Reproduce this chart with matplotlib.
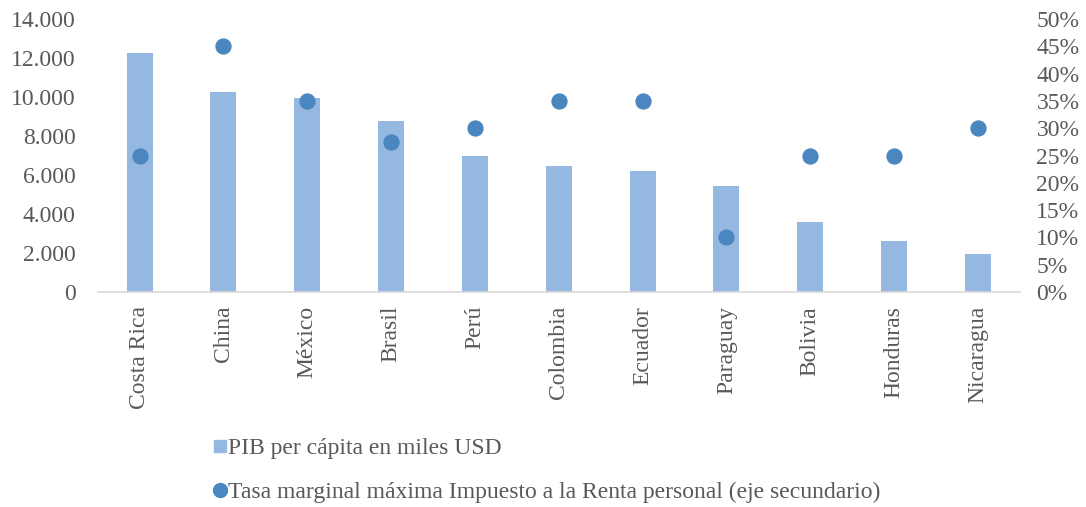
import numpy as np
import matplotlib
matplotlib.use('Agg')
import matplotlib.pyplot as plt
from matplotlib.ticker import FuncFormatter, MultipleLocator
from matplotlib.lines import Line2D

paises = ['Costa Rica', 'China', 'México', 'Brasil', 'Perú', 'Colombia',
          'Ecuador', 'Paraguay', 'Bolivia', 'Honduras', 'Nicaragua']
pib = [12260, 10260, 9950, 8750, 7000, 6450, 6200, 5450, 3600, 2600, 1950]
tasa = [0.25, 0.45, 0.35, 0.275, 0.30, 0.35, 0.35, 0.10, 0.25, 0.25, 0.30]

plt.rcParams['font.family'] = ['Liberation Serif', 'DejaVu Serif']
gris = '#595959'
c_bar = '#95b8e0'
c_dot = '#4a86bf'
fs = 17

f = plt.figure(figsize=(10.86, 5.07), dpi=100)
ax = f.add_axes([0.09, 0.424, 0.849, 0.5385])
x = np.arange(len(paises))
ax.bar(x, pib, width=0.31, color=c_bar, zorder=2)
ax.set_xlim(-0.5, len(paises) - 0.5)
ax.set_ylim(0, 14000)
ax.yaxis.set_major_locator(MultipleLocator(2000))
ax.yaxis.set_major_formatter(FuncFormatter(lambda v, p: f'{int(v):,}'.replace(',', '.')))
ax.set_xticks(x)
ax.set_xticklabels(paises, rotation=90)
for s in ['top', 'right', 'left']:
    ax.spines[s].set_visible(False)
ax.spines['bottom'].set_color('#d9d9d9')
ax.spines['bottom'].set_linewidth(1.2)
ax.tick_params(length=0, labelsize=fs, colors=gris)
ax.tick_params(axis='y', pad=16)
ax.tick_params(axis='x', pad=10)

ax2 = ax.twinx()
ax2.scatter(x, tasa, s=115, color=c_dot, zorder=3)
ax2.set_ylim(0, 0.5)
ax2.yaxis.set_major_locator(MultipleLocator(0.05))
ax2.yaxis.set_major_formatter(FuncFormatter(lambda v, p: f'{round(v*100)}%'))
for s in ['top', 'right', 'left', 'bottom']:
    ax2.spines[s].set_visible(False)
ax2.tick_params(length=0, labelsize=fs, colors=gris, pad=12)
for t in ax2.get_yticklabels():
    t.set_horizontalalignment('left')

h1 = Line2D([], [], ls='none', marker='s', ms=8, color=c_bar)
h2 = Line2D([], [], ls='none', marker='o', ms=10, color=c_dot)
leg = f.legend(handles=[h1, h2],
               labels=['PIB per cápita en miles USD',
                       'Tasa marginal máxima Impuesto a la Renta personal (eje secundario)'],
               loc='upper left', bbox_to_anchor=(0.187, 0.155),
               ncol=1, frameon=False, fontsize=fs, handlelength=0.6,
               handletextpad=0.05, labelspacing=0.95, borderaxespad=0)
for t in leg.get_texts():
    t.set_color(gris)

f.savefig('out.png', dpi=100)
